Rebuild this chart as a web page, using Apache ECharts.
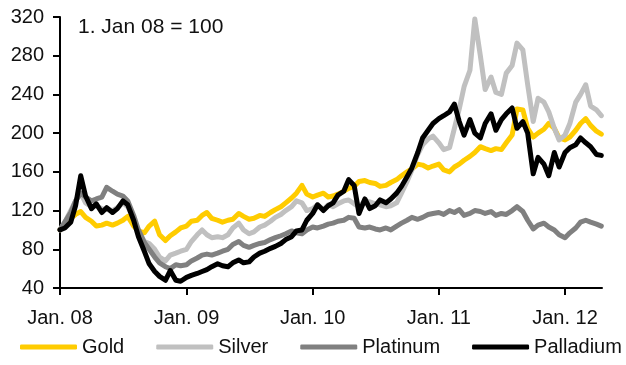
<!DOCTYPE html>
<html>
<head>
<meta charset="utf-8">
<script src="https://cdn.jsdelivr.net/npm/echarts@6/dist/echarts.min.js"></script>
<style>
html,body{margin:0;padding:0;background:#fff;}
#chart{width:626px;height:365px;}
</style>
</head>
<body>
<div id="chart"></div>
<script>
// Semi-monthly observations (1st and 15th of each month), Jan 2008 .. Apr 2012, index 1 Jan 08 = 100
var startYear = 2008;
var nPoints = 104;
var dates = [];
for (var i = 0; i < nPoints; i++) {
  var y = startYear + Math.floor(i / 24);
  var m = Math.floor((i % 24) / 2);
  var d = (i % 2 === 0) ? 1 : 15;
  dates.push(Date.UTC(y, m, d));
}

var seriesNames = ['Gold', 'Silver', 'Platinum', 'Palladium'];
var tickYears = [2008, 2009, 2010, 2011, 2012];
var yTicks = [40, 80, 120, 160, 200, 240, 280, 320];

var gold = [100,106,112,116,119,113,109,104,105,107,105,107,110,114,104,99,97,104,109,95,89,94,98,102,
  104,109,110,115,118,112,110,108,110,111,117,114,111,112,115,114,118,121,124,128,133,138,146,137,
  134,136,138,134,135,137,140,143,145,150,151,149,148,145,146,149,152,156,160,163,168,167,164,166,
  168,162,160,165,168,172,176,180,186,184,182,184,183,190,198,225,224,205,196,200,204,210,205,195,
  193,196,203,210,215,208,202,199];

var silver = [100,108,120,130,138,128,124,125,122,121,120,123,128,124,112,98,88,86,80,72,68,74,76,78,
  80,88,95,100,95,92,93,92,95,102,107,100,96,98,103,105,109,113,116,120,124,130,128,120,
  122,126,121,126,124,127,130,131,127,124,130,129,127,126,124,125,128,138,150,162,178,188,194,197,
  190,183,185,205,225,248,265,318,280,245,258,242,240,262,270,293,286,250,212,236,232,222,205,193,
  198,210,232,240,250,228,224,218];

var platinum = [100,108,118,130,138,134,130,132,134,144,140,137,135,130,115,100,87,80,72,66,62,60,64,63,
  64,68,71,74,75,74,76,78,80,85,88,84,82,84,86,87,90,92,94,96,99,97,96,100,
  103,102,104,106,107,109,110,113,112,103,102,103,101,100,102,100,104,107,110,113,111,113,116,117,
  118,116,120,118,121,115,117,120,119,117,119,115,117,116,120,124,119,110,101,105,107,103,100,95,
  92,97,102,108,110,108,106,104];

var palladium = [100,102,108,125,156,135,122,127,118,123,118,122,130,126,110,93,78,65,57,52,48,58,48,47,
  51,53,55,57,59,62,65,63,62,66,69,66,67,72,76,78,81,83,86,90,93,99,100,110,
  117,126,120,125,128,136,140,152,146,117,132,122,125,131,128,132,138,145,155,164,180,195,203,210,
  215,218,222,230,212,198,214,200,195,210,220,203,214,220,226,205,212,200,158,175,168,156,180,165,
  180,185,188,195,190,186,178,177];

var colors = ['#FFCC00', '#C0C0C0', '#808080', '#000000'];
var values = [gold, silver, platinum, palladium];

function pairs(arr) {
  return arr.map(function (v, i) { return [dates[i], v]; });
}

var tickTimes = tickYears.map(function (y) { return Date.UTC(y, 0, 1); });
var FONT = 'Liberation Sans';
var TXT = '#111111';

var chart = echarts.init(document.getElementById('chart'), null, {renderer: 'canvas'});
chart.setOption({
  animation: false,
  backgroundColor: '#ffffff',
  textStyle: {fontFamily: FONT},
  grid: {left: 60, right: 24, top: 17, bottom: 77, containLabel: false},
  graphic: [{
    type: 'text', left: 78, top: 17,
    style: {text: '1. Jan 08 = 100', font: '21px "Liberation Sans"', fill: TXT}
  }],
  legend: {
    left: 20, top: 337, padding: 0,
    icon: 'roundRect', itemWidth: 57, itemHeight: 5, itemGap: 32,
    textStyle: {fontFamily: FONT, fontSize: 20, color: TXT},
    data: seriesNames
  },
  xAxis: {
    type: 'value',
    min: Date.UTC(2008, 0, 1),
    max: Date.UTC(2012, 3, 17),
    splitLine: {show: false},
    axisLine: {lineStyle: {color: '#000', width: 2}},
    axisTick: {show: true, length: 7, lineStyle: {color: '#000', width: 2}, customValues: tickTimes},
    axisLabel: {
      customValues: tickTimes,
      margin: 20,
      fontFamily: FONT, fontSize: 20, color: TXT,
      formatter: function (val) {
        var yy = new Date(val).getUTCFullYear() % 100;
        return 'Jan. ' + (yy < 10 ? '0' + yy : yy);
      }
    }
  },
  yAxis: {
    type: 'value',
    min: yTicks[0], max: yTicks[yTicks.length - 1], interval: 40,
    splitLine: {show: false},
    axisLine: {show: true, lineStyle: {color: '#000', width: 2}},
    axisTick: {show: true, length: 7, lineStyle: {color: '#000', width: 2}},
    axisLabel: {margin: 16, fontFamily: FONT, fontSize: 20, color: TXT}
  },
  series: seriesNames.map(function (name, k) {
    return {
      name: name,
      type: 'line',
      data: pairs(values[k]),
      showSymbol: false,
      symbol: 'none',
      smooth: false,
      color: colors[k],
      lineStyle: {width: 5, color: colors[k], join: 'round', cap: 'round'},
      z: 2 + k
    };
  })
});
</script>
</body>
</html>
